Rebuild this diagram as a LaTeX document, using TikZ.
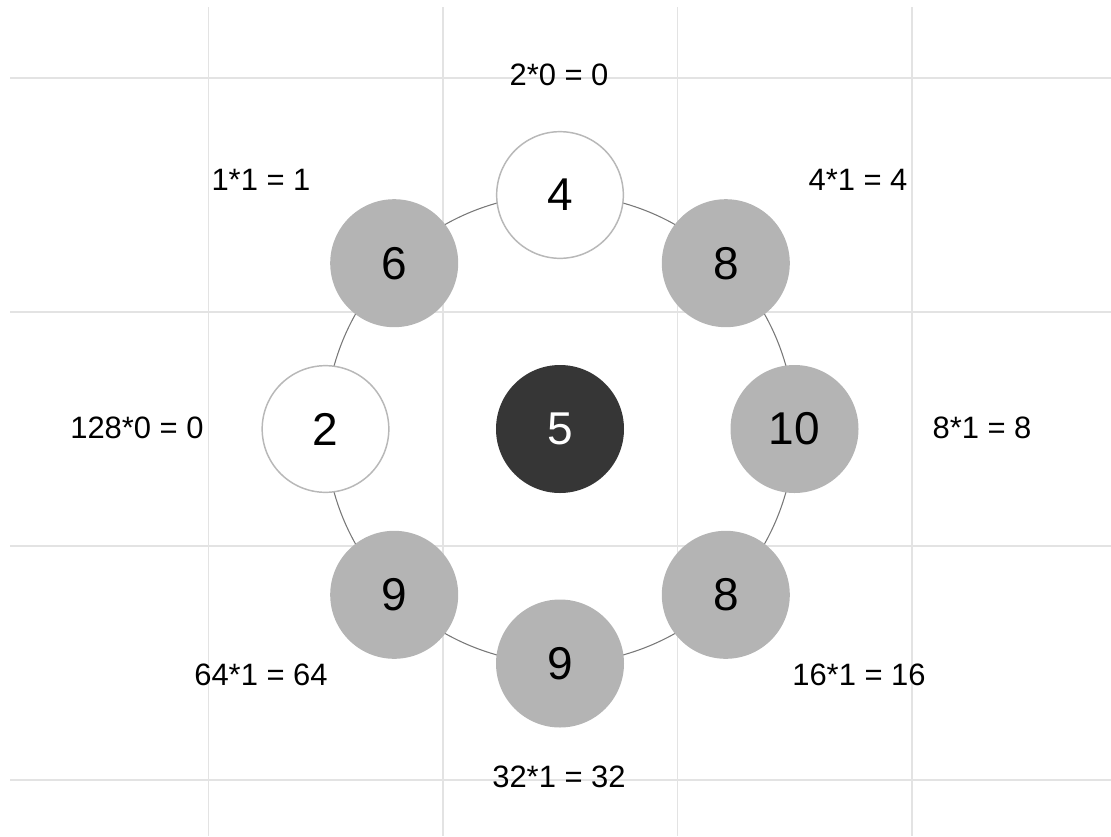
\documentclass[tikz,border=0pt]{standalone}
\usepackage{fontspec}
\setmainfont{Liberation Sans}
\definecolor{gridc}{HTML}{E3E3E3}
\definecolor{ringc}{HTML}{777777}
\definecolor{nodegray}{HTML}{B4B4B4}
\definecolor{nodedark}{HTML}{363636}
\definecolor{nodeedge}{HTML}{B8B8B8}
\begin{document}
\begin{tikzpicture}[x=0.75pt,y=-0.75pt,
  gridline/.style={draw=gridc,line width=1.1pt},
  ring/.style={draw=ringc,line width=0.8pt},
  bubble/.style={circle,minimum size=96pt,inner sep=0pt,font=\fontsize{34.5}{40}\selectfont},
  onbubble/.style={bubble,fill=nodegray},
  offbubble/.style={bubble,fill=white,draw=nodeedge,line width=1.1pt,minimum size=95pt},
  centerbubble/.style={bubble,fill=nodedark,text=white},
  calc/.style={font=\fontsize{23.2}{27}\selectfont,inner sep=0pt}]
\useasboundingbox (0,0) rectangle (1111,836);
\foreach \x in {208.5,443,677.5,912} \draw[gridline] (\x,7) -- (\x,836);
\foreach \y in {78,312,546,780} \draw[gridline] (10,\y) -- (1111,\y);
\coordinate (ctr) at (560,429);
\draw[ring] (ctr) circle[radius=175.9pt];
\node[centerbubble] (c) at (ctr) {5};
\node[offbubble] (n1) at (560,195) {4};
\node[onbubble] (n2) at (725.8,263.2) {8};
\node[onbubble] (n3) at (794.5,429) {10};
\node[onbubble] (n4) at (725.8,594.8) {8};
\node[onbubble] (n5) at (560,663.5) {9};
\node[onbubble] (n6) at (394.2,594.8) {9};
\node[offbubble] (n7) at (325.5,429) {2};
\node[onbubble] (n0) at (394.2,263.2) {6};
\node[calc] (l1) at (559,75) {2*0 = 0};
\node[calc] (l2) at (858,179.5) {4*1 = 4};
\node[calc] (l3) at (982,428) {8*1 = 8};
\node[calc] (l4) at (859,675) {16*1 = 16};
\node[calc] (l5) at (559,777) {32*1 = 32};
\node[calc] (l6) at (261,675) {64*1 = 64};
\node[calc] (l7) at (137,428) {128*0 = 0};
\node[calc] (l0) at (261,179.5) {1*1 = 1};
\end{tikzpicture}
\end{document}
